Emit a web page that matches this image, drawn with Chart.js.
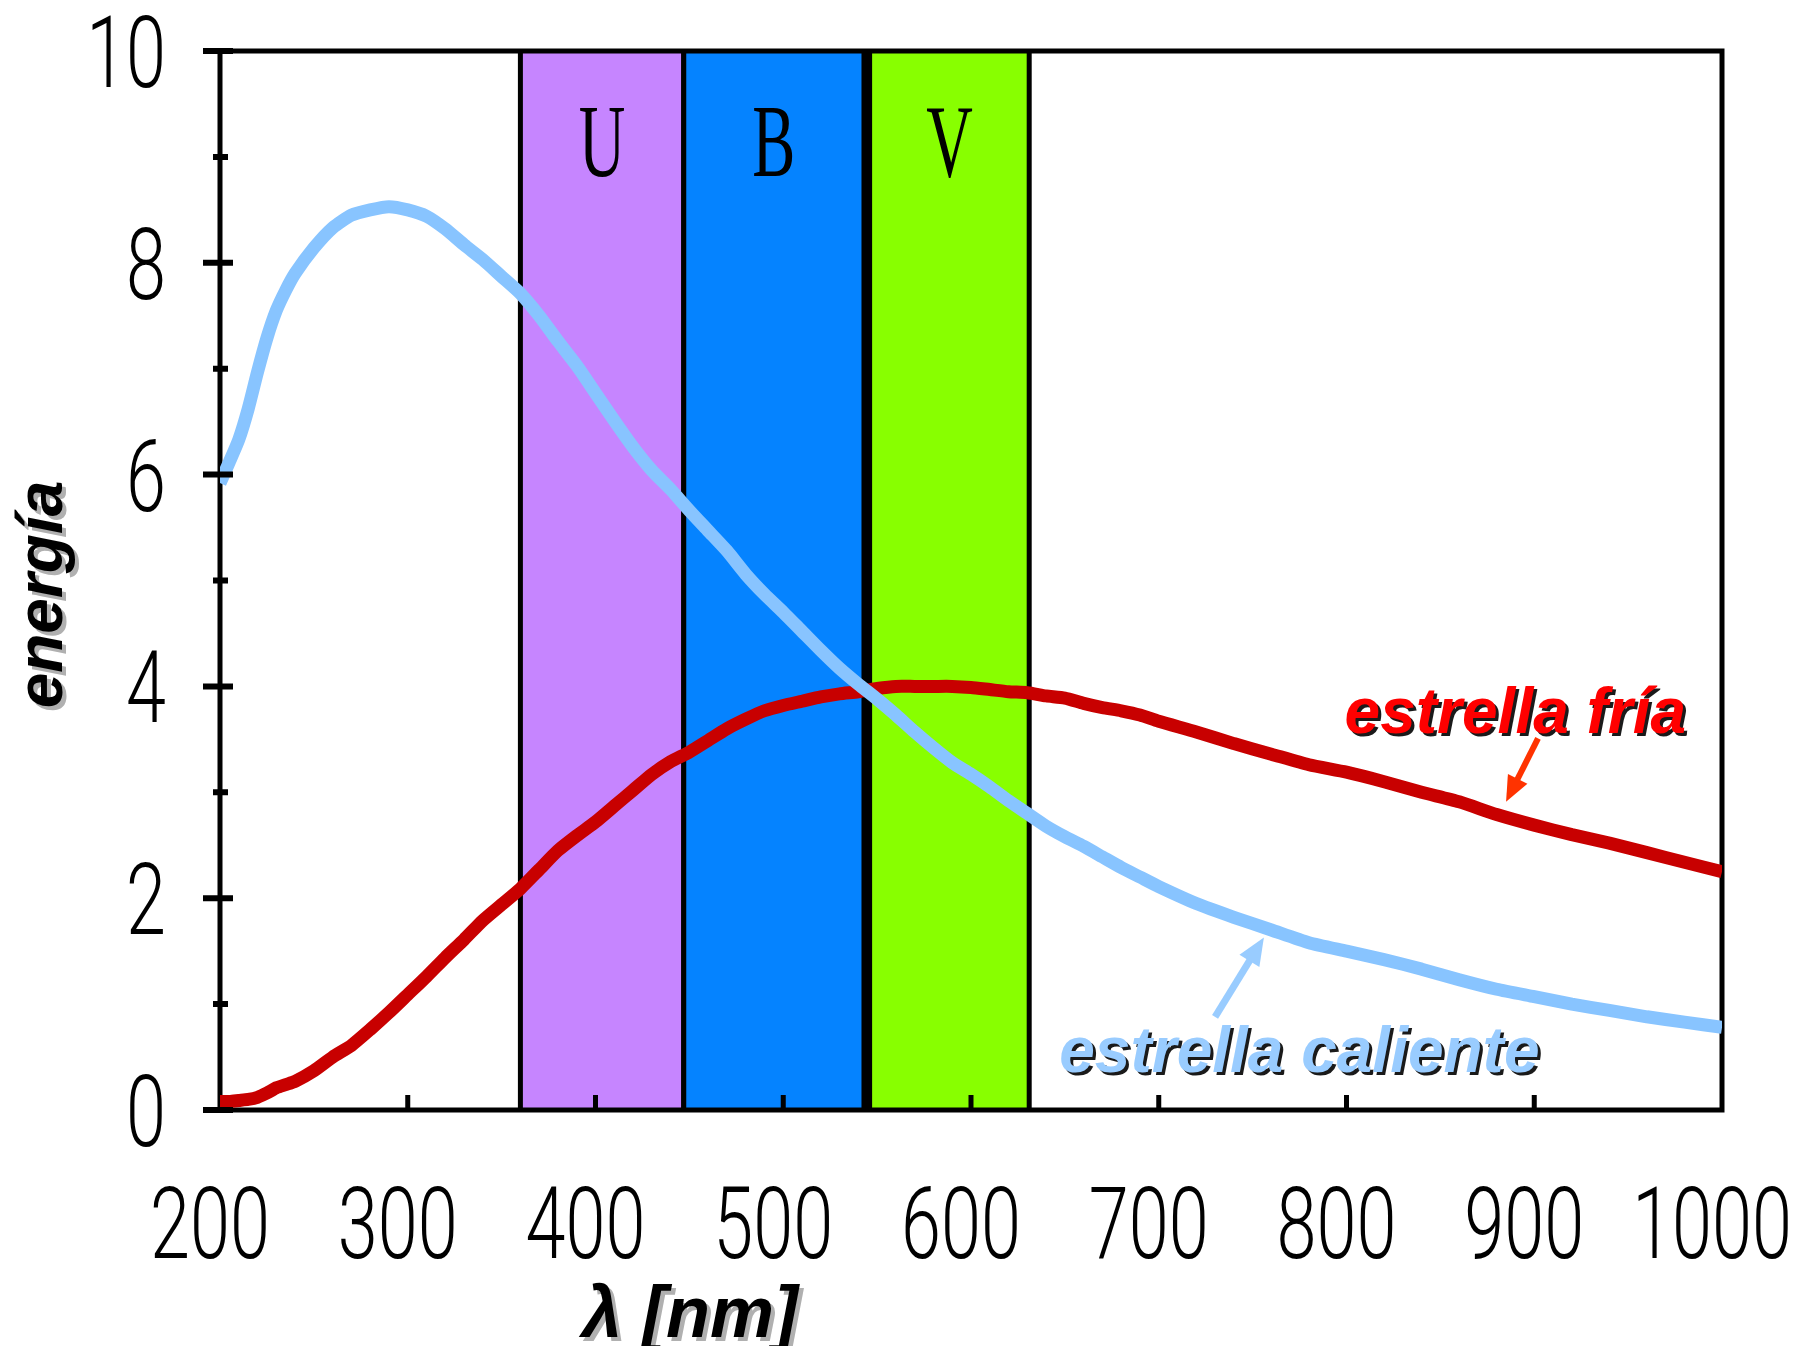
<!DOCTYPE html>
<html>
<head>
<meta charset="utf-8">
<script src="https://cdn.jsdelivr.net/npm/chart.js@4.4.1/dist/chart.umd.min.js"></script>
<style>
  html, body { margin: 0; padding: 0; background: #ffffff; }
  canvas { display: block; }
</style>
</head>
<body>
<canvas id="chart" width="1793" height="1346"></canvas>
<script>
// Wavelength samples (nm) shared by both curves
const wavelengths = [200, 205, 210, 215, 220, 225, 230, 235, 240, 250, 260, 270, 280, 290, 300,
  310, 320, 330, 340, 350, 360, 370, 380, 390, 400, 410, 420, 430, 440, 450, 460, 470, 480, 490, 500,
  510, 520, 530, 540, 550, 560, 570, 580, 590, 600, 610, 620, 630, 640, 650, 660, 670, 680, 690, 700,
  720, 740, 760, 780, 800, 820, 840, 860, 880, 900, 920, 940, 960, 980, 1000];

// estrella caliente
const hotStar = [5.92, 6.12, 6.33, 6.62, 6.97, 7.29, 7.55, 7.74, 7.90, 8.14, 8.33, 8.45, 8.50, 8.53, 8.50,
  8.44, 8.32, 8.17, 8.03, 7.87, 7.71, 7.50, 7.26, 7.03, 6.77, 6.51, 6.26, 6.04, 5.86, 5.66, 5.47, 5.28, 5.06, 4.87, 4.70,
  4.52, 4.34, 4.17, 4.02, 3.88, 3.73, 3.57, 3.42, 3.28, 3.17, 3.05, 2.92, 2.80, 2.68, 2.58, 2.49, 2.39, 2.29, 2.20, 2.11,
  1.95, 1.82, 1.70, 1.58, 1.50, 1.42, 1.33, 1.23, 1.14, 1.07, 1.00, 0.94, 0.88, 0.83, 0.78];

// estrella fría
const coolStar = [0.08, 0.08, 0.09, 0.10, 0.12, 0.16, 0.21, 0.24, 0.27, 0.37, 0.50, 0.61, 0.76, 0.92, 1.09,
  1.26, 1.44, 1.61, 1.79, 1.94, 2.09, 2.27, 2.45, 2.59, 2.72, 2.87, 3.02, 3.17, 3.29, 3.38, 3.49, 3.60, 3.69, 3.77, 3.82,
  3.86, 3.90, 3.93, 3.95, 3.98, 4.00, 4.00, 4.00, 4.00, 3.99, 3.97, 3.95, 3.94, 3.91, 3.89, 3.84, 3.80, 3.77, 3.73, 3.67,
  3.57, 3.46, 3.36, 3.26, 3.19, 3.10, 3.00, 2.91, 2.79, 2.69, 2.60, 2.52, 2.43, 2.34, 2.25];

// UBV filter bands (nm)
const bandNames = ['U', 'B', 'V'];
const bandStart = [360, 447, 546];
const bandEnd = [447, 543, 631];
const bandColors = ['#c685ff', '#0583ff', '#88ff00'];

// axis ticks and their labels
const xTickValues = [200, 300, 400, 500, 600, 700, 800, 900, 1000];
const xTickLabels = ['200', '300', '400', '500', '600', '700', '800', '900', '1000'];
const yTickValues = [0, 2, 4, 6, 8, 10];
const yTickLabels = ['0', '2', '4', '6', '8', '10'];
const yMinorTicks = [1, 3, 5, 7, 9];

const tickFont = "300 100px Roboto, 'DejaVu Sans', sans-serif";
const labelFont = "'Liberation Sans', Arial, sans-serif";

function shadowText(ctx, text, x, y, fill, shadow, off) {
  ctx.save();
  ctx.shadowColor = shadow;
  ctx.shadowOffsetX = off;
  ctx.shadowOffsetY = off;
  ctx.shadowBlur = 0;
  ctx.fillStyle = fill;
  ctx.fillText(text, x, y);
  ctx.restore();
}

// narrow text, squeezed horizontally like the old bitmap font
function narrowText(ctx, text, x, y, align, squeeze) {
  ctx.save();
  ctx.translate(x, y);
  ctx.scale(squeeze, 1);
  ctx.textAlign = align;
  ctx.fillText(text, 0, 0);
  ctx.restore();
}

function drawArrow(ctx, x0, y0, x1, y1, color, width, head) {
  const ang = Math.atan2(y1 - y0, x1 - x0);
  ctx.save();
  ctx.strokeStyle = color;
  ctx.fillStyle = color;
  ctx.lineWidth = width;
  ctx.beginPath();
  ctx.moveTo(x0, y0);
  ctx.lineTo(x1 - Math.cos(ang) * head * 0.8, y1 - Math.sin(ang) * head * 0.8);
  ctx.stroke();
  ctx.beginPath();
  ctx.moveTo(x1, y1);
  ctx.lineTo(x1 - head * Math.cos(ang - 0.4), y1 - head * Math.sin(ang - 0.4));
  ctx.lineTo(x1 - head * Math.cos(ang + 0.4), y1 - head * Math.sin(ang + 0.4));
  ctx.closePath();
  ctx.fill();
  ctx.restore();
}

// Bands, frame, ticks and annotations
const spectrumDecor = {
  id: 'spectrumDecor',
  beforeDatasetsDraw(chart) {
    const { ctx, chartArea: a, scales: { x, y } } = chart;
    ctx.save();
    bandNames.forEach((name, i) => {
      const x0 = x.getPixelForValue(bandStart[i]);
      const x1 = x.getPixelForValue(bandEnd[i]);
      ctx.fillStyle = bandColors[i];
      ctx.fillRect(x0, a.top, x1 - x0, a.bottom - a.top);
      ctx.strokeStyle = '#000';
      ctx.lineWidth = 5;
      ctx.beginPath();
      ctx.moveTo(x0, a.top); ctx.lineTo(x0, a.bottom);
      ctx.moveTo(x1, a.top); ctx.lineTo(x1, a.bottom);
      ctx.stroke();
    });
    // black gap between B and V
    const g0 = x.getPixelForValue(bandEnd[1]);
    const g1 = x.getPixelForValue(bandStart[2]);
    ctx.fillStyle = '#000';
    ctx.fillRect(g0, a.top, g1 - g0, a.bottom - a.top);

    // band letters
    ctx.font = "normal 104px 'Liberation Serif', 'DejaVu Serif', serif";
    ctx.textBaseline = 'alphabetic';
    ctx.fillStyle = '#000';
    bandNames.forEach((name, i) => {
      const cx = x.getPixelForValue((bandStart[i] + bandEnd[i]) / 2);
      narrowText(ctx, name, cx, y.getPixelForValue(8.82), 'center', 0.62);
    });

    // frame
    ctx.strokeStyle = '#000';
    ctx.lineWidth = 5;
    ctx.strokeRect(a.left, a.top, a.right - a.left, a.bottom - a.top);
    ctx.restore();
  },
  afterDatasetsDraw(chart) {
    const { ctx, chartArea: a, scales: { x, y } } = chart;
    ctx.save();
    ctx.strokeStyle = '#000';
    ctx.lineWidth = 6;
    ctx.beginPath();
    yTickValues.forEach(v => {
      const py = y.getPixelForValue(v);
      ctx.moveTo(a.left - 17, py); ctx.lineTo(a.left + 13, py);
    });
    yMinorTicks.forEach(v => {
      const py = y.getPixelForValue(v);
      ctx.moveTo(a.left - 7, py); ctx.lineTo(a.left + 8, py);
    });
    ctx.stroke();
    ctx.lineWidth = 5;
    ctx.beginPath();
    xTickValues.slice(1, -1).forEach(v => {
      const px = x.getPixelForValue(v);
      ctx.moveTo(px, a.bottom); ctx.lineTo(px, a.bottom - 15);
    });
    ctx.stroke();

    // tick labels
    ctx.font = tickFont;
    ctx.fillStyle = '#000';
    ctx.textBaseline = 'alphabetic';
    yTickValues.forEach((v, i) => {
      narrowText(ctx, yTickLabels[i], a.left - 54, y.getPixelForValue(v) + 36, 'right', 0.72);
    });
    xTickValues.forEach((v, i) => {
      narrowText(ctx, xTickLabels[i], x.getPixelForValue(v) - 10, a.bottom + 148, 'center', 0.72);
    });

    // curve labels
    ctx.font = 'italic bold 64px ' + labelFont;
    ctx.textAlign = 'left';
    shadowText(ctx, 'estrella fría', x.getPixelForValue(799), y.getPixelForValue(3.56), '#ff0000', '#1a1a1a', 3);
    shadowText(ctx, 'estrella caliente', x.getPixelForValue(647), y.getPixelForValue(0.36), '#99ccff', '#1a1a1a', 3);

    drawArrow(ctx, x.getPixelForValue(902), y.getPixelForValue(3.51),
      x.getPixelForValue(885), y.getPixelForValue(2.91), '#ff3300', 6, 28);
    drawArrow(ctx, x.getPixelForValue(730), y.getPixelForValue(0.88),
      x.getPixelForValue(756), y.getPixelForValue(1.63), '#99ccff', 7, 30);

    // axis titles
    ctx.font = 'italic bold 64px ' + labelFont;
    ctx.textAlign = 'center';
    ctx.save();
    ctx.translate(62, (a.top + a.bottom) / 2 + 14);
    ctx.rotate(-Math.PI / 2);
    shadowText(ctx, 'energía', 0, 0, '#000', '#b0b0b0', 4);
    ctx.restore();
    ctx.font = 'italic bold 72px ' + labelFont;
    shadowText(ctx, 'λ [nm]', 690, 1337, '#000', '#b0b0b0', 4);
    ctx.restore();
  }
};

new Chart(document.getElementById('chart'), {
  type: 'line',
  data: {
    datasets: [
      {
        label: 'estrella caliente',
        data: wavelengths.map((w, i) => ({ x: w, y: hotStar[i] })),
        borderColor: '#88c4ff',
        borderWidth: 13,
        pointRadius: 0,
        tension: 0.2,
        borderCapStyle: 'butt',
        borderJoinStyle: 'round'
      },
      {
        label: 'estrella fría',
        data: wavelengths.map((w, i) => ({ x: w, y: coolStar[i] })),
        borderColor: '#c80000',
        borderWidth: 13,
        pointRadius: 0,
        tension: 0.2,
        borderCapStyle: 'butt',
        borderJoinStyle: 'round'
      }
    ]
  },
  options: {
    responsive: false,
    animation: false,
    devicePixelRatio: 1,
    layout: { padding: { top: 51, right: 71, left: 0, bottom: 0 } },
    plugins: {
      legend: { display: false },
      tooltip: { enabled: false }
    },
    scales: {
      x: {
        type: 'linear',
        min: 200,
        max: 1000,
        grid: { display: false, drawTicks: false },
        border: { display: false },
        ticks: { display: false, stepSize: 100 },
        afterFit(scale) {
          scale.height = 236;
          scale.paddingLeft = 0;
          scale.paddingRight = 0;
        }
      },
      y: {
        min: 0,
        max: 10,
        grid: { display: false, drawTicks: false },
        border: { display: false },
        ticks: { display: false, stepSize: 2 },
        afterFit(scale) {
          scale.width = 220;
          scale.paddingTop = 0;
          scale.paddingBottom = 0;
        }
      }
    }
  },
  plugins: [spectrumDecor]
});
</script>
</body>
</html>
